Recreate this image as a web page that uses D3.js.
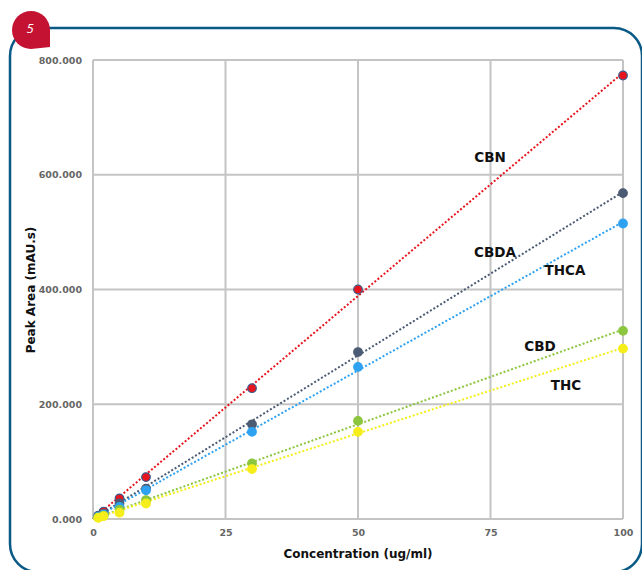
<!DOCTYPE html>
<html>
<head>
<meta charset="utf-8">
<script src="https://cdn.jsdelivr.net/npm/d3@7/dist/d3.min.js"></script>
<style>
  html, body { margin: 0; padding: 0; background: #fff; }
  svg { display: block; font-family: "DejaVu Sans", sans-serif; }
</style>
</head>
<body>
<svg id="chart" width="642" height="570"></svg>
<script>
// Calibration data: concentration (ug/ml) vs peak area (mAU.s)
const concentrations = [1, 2, 5, 10, 30, 50, 100];
const seriesNames = ["CBN", "CBDA", "THCA", "CBD", "THC"];
const cbn  = [6, 13, 36, 73, 228, 400, 773];
const cbda = [4, 9, 27, 53, 165, 291, 568];
const thca = [4, 8, 21, 50, 152, 265, 515];
const cbd  = [3, 6, 16, 33, 97, 171, 328];
const thc  = [2, 5, 11, 27, 87, 152, 297];
const xTicks = [0, 25, 50, 75, 100];
const yTicks = [0, 200, 400, 600, 800];

const seriesValues = [cbn, cbda, thca, cbd, thc];
const colors = ["#e8141e", "#4b5b73", "#2ea2f0", "#8cc63f", "#f5ee1a"];
const strokes = ["#3a5a8a", "#4b5b73", "#2ea2f0", "#8cc63f", "#f5ee1a"];
const labelPos = [[490, 157], [495, 252], [565, 270], [540, 346], [566, 385]];

const svg = d3.select("#chart");

// rounded frame
svg.append("rect")
  .attr("x", 10).attr("y", 28).attr("width", 632).attr("height", 544)
  .attr("rx", 28).attr("ry", 28)
  .attr("fill", "none").attr("stroke", "#0b5a86").attr("stroke-width", 2.5);

// badge (teardrop)
const bx = 31, by = 30, br = 19;
svg.append("path")
  .attr("d", `M${bx + br},${by} L${bx + br},${by + br - 2} L${bx},${by + br}
              A${br},${br} 0 0 1 ${bx - br},${by}
              A${br},${br} 0 0 1 ${bx},${by - br}
              A${br},${br} 0 0 1 ${bx + br},${by} Z`)
  .attr("fill", "#c41232");
svg.append("text")
  .attr("x", bx - 1).attr("y", by + 3)
  .attr("text-anchor", "middle")
  .attr("font-size", 13).attr("font-style", "italic")
  .style("font-family", "'Open Sans', sans-serif")
  .attr("fill", "#fff").text("5");

const margin = { left: 93, right: 623, top: 60, bottom: 519 };
const x = d3.scaleLinear().domain([0, 100]).range([margin.left, margin.right]);
const y = d3.scaleLinear().domain([0, 800]).range([margin.bottom, margin.top]);

const grid = svg.append("g");
grid.selectAll("line.v").data(xTicks).join("line")
  .attr("x1", d => x(d)).attr("x2", d => x(d))
  .attr("y1", y(0)).attr("y2", y(800))
  .attr("stroke", "#c4c4c4").attr("stroke-width", 2);
grid.selectAll("line.h").data(yTicks).join("line")
  .attr("y1", d => y(d)).attr("y2", d => y(d))
  .attr("x1", x(0)).attr("x2", x(100))
  .attr("stroke", "#c4c4c4").attr("stroke-width", 2);

// axes (labels only)
const xAxis = svg.append("g")
  .attr("transform", `translate(0,${y(0)})`)
  .call(d3.axisBottom(x).tickValues(xTicks).tickSize(0).tickPadding(10));
const yAxis = svg.append("g")
  .attr("transform", `translate(${x(0)},0)`)
  .call(d3.axisLeft(y).tickValues(yTicks).tickSize(0).tickPadding(11)
    .tickFormat(d3.format(".3f")));
[xAxis, yAxis].forEach(a => {
  a.select(".domain").remove();
  a.selectAll("text")
    .attr("fill", "#666").attr("font-size", 9.5).attr("font-weight", "bold")
    .style("font-family", "'DejaVu Sans', sans-serif");
});

// linear trend lines
seriesValues.forEach((vals, i) => {
  const mx = d3.mean(concentrations), my = d3.mean(vals);
  let sxy = 0, sxx = 0;
  concentrations.forEach((c, k) => { sxy += (c - mx) * (vals[k] - my); sxx += (c - mx) * (c - mx); });
  const slope = sxy / sxx, icpt = my - slope * mx;
  svg.append("line")
    .attr("x1", x(0)).attr("y1", y(Math.max(0, icpt)))
    .attr("x2", x(100)).attr("y2", y(icpt + slope * 100))
    .attr("stroke", colors[i]).attr("stroke-width", 2)
    .attr("stroke-dasharray", "2,2");
});

// points
seriesValues.forEach((vals, i) => {
  svg.append("g").selectAll("circle")
    .data(vals.map((v, k) => [concentrations[k], v]))
    .join("circle")
    .attr("cx", d => x(d[0])).attr("cy", d => y(d[1]))
    .attr("r", 4.3)
    .attr("fill", colors[i])
    .attr("stroke", strokes[i]).attr("stroke-width", 1.2);
});

// series labels
seriesNames.forEach((name, i) => {
  svg.append("text")
    .attr("x", labelPos[i][0]).attr("y", labelPos[i][1] + 5)
    .attr("text-anchor", "middle")
    .attr("font-size", 13.5).attr("font-weight", "bold").attr("fill", "#111")
    .text(name);
});

// axis titles
svg.append("text")
  .attr("x", 358).attr("y", 558)
  .attr("text-anchor", "middle")
  .attr("font-size", 12).attr("font-weight", "bold").attr("fill", "#111")
  .text("Concentration (ug/ml)");
svg.append("text")
  .attr("transform", "translate(35,290) rotate(-90)")
  .attr("text-anchor", "middle")
  .attr("font-size", 12).attr("font-weight", "bold").attr("fill", "#111")
  .text("Peak Area (mAU.s)");
</script>
</body>
</html>
